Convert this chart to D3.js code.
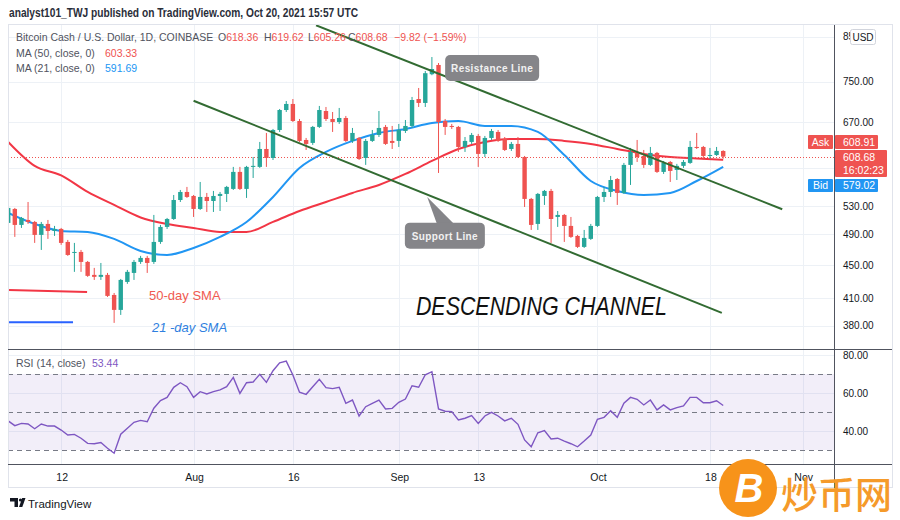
<!DOCTYPE html>
<html><head><meta charset="utf-8">
<script src="https://cdn.jsdelivr.net/npm/d3@7"></script>
<style>
html,body{margin:0;padding:0;background:#fff;}
svg{display:block;font-family:"Liberation Sans",Arial,sans-serif;}
</style></head><body>
<svg id="c" width="900" height="520"></svg>
<script>
// ---------- DATA ----------
const startDate = "2021-07-04";
const open = [506.0,526.1,503.2,510.2,507.4,489.4,504.6,494.8,497.6,479.9,465.4,466.7,453.9,437.8,435.4,437.8,414.0,397.1,429.3,440.2,453.9,459.0,453.9,479.9,500.4,511.6,539.4,551.6,545.5,526.1,544.0,537.9,545.5,548.6,556.3,583.3,556.3,591.5,591.5,621.8,606.4,655.6,693.1,704.9,672.2,637.6,632.4,661.2,691.2,676.0,670.4,677.9,635.9,641.2,606.4,635.9,646.6,661.2,635.9,635.9,653.8,663.0,714.7,706.9,765.8,785.8,672.2,663.0,661.2,625.3,634.1,644.8,613.3,641.2,652.0,639.4,621.8,630.6,608.1,541.0,504.6,545.5,553.2,514.5,517.4,501.8,488.0,473.3,484.0,501.8,544.0,551.6,571.9,550.1,594.8,616.7,609.8,594.8,615.0,583.3,599.7,586.5,593.2,598.1,625.3,625.3,609.8,611.5,618.36];
const high = [529.0,527.6,514.5,536.4,508.8,507.4,510.2,501.8,499.0,482.6,478.6,469.3,455.1,446.4,452.6,440.2,416.3,432.9,443.9,456.4,461.6,461.6,517.4,503.2,513.1,547.0,554.7,559.4,547.0,567.2,550.1,553.2,551.6,561.0,591.5,591.5,593.2,608.1,634.1,650.2,657.5,695.1,710.7,714.7,676.0,641.2,663.0,701.0,699.0,689.3,697.1,681.7,659.3,642.9,639.4,655.6,691.2,664.8,663.0,666.7,674.1,718.8,737.0,772.7,803.4,790.1,676.0,666.7,663.0,642.9,650.2,648.4,644.8,657.5,655.6,642.9,634.1,642.9,609.8,542.5,550.1,554.7,556.3,523.1,518.8,514.5,489.4,496.2,504.6,545.5,559.4,576.8,573.5,598.1,623.6,637.6,620.1,625.3,616.7,601.4,601.4,596.5,603.0,635.9,650.2,627.1,623.6,625.3,619.62];
const low = [504.6,486.7,499.0,504.6,478.6,469.3,484.0,488.0,476.0,461.6,441.5,441.5,435.4,431.7,431.7,411.7,383.0,391.6,427.0,431.7,451.4,440.2,451.4,477.3,497.6,510.2,536.4,542.5,514.5,524.6,521.7,521.7,523.1,536.4,554.7,554.7,542.5,573.5,589.8,591.5,603.0,652.0,689.3,670.4,634.1,620.1,628.9,659.3,672.2,652.0,666.7,634.1,632.4,603.0,594.8,634.1,642.9,628.9,621.8,625.3,650.2,659.3,699.0,699.0,763.7,581.6,646.6,657.5,616.7,616.7,630.6,591.5,608.1,637.6,634.1,618.4,618.4,606.4,529.0,496.2,496.2,532.0,478.6,500.4,479.9,485.3,471.9,471.9,482.6,500.4,536.4,544.0,532.0,548.6,562.5,599.7,589.8,593.2,581.6,580.0,567.2,570.3,589.8,596.5,621.8,603.0,604.7,609.8,605.26];
const close = [527.6,503.2,513.1,507.4,489.4,504.6,494.8,497.6,478.6,462.8,466.7,453.9,436.6,435.4,437.8,412.9,397.1,431.7,441.5,453.9,459.0,452.6,479.9,500.4,511.6,539.4,551.6,544.0,526.1,544.0,537.9,545.5,548.6,559.4,583.3,556.3,591.5,593.2,621.8,606.4,655.6,693.1,704.9,672.2,635.9,630.6,661.2,693.1,676.0,670.4,677.9,635.9,650.2,604.7,635.9,646.6,659.3,630.6,632.4,655.6,663.0,712.7,706.9,768.0,777.0,670.4,661.2,661.2,625.3,635.9,646.6,613.3,641.2,653.8,635.9,620.1,630.6,608.1,541.0,503.2,548.6,553.2,511.6,517.4,501.8,486.7,473.3,485.3,501.8,544.0,551.6,570.3,550.1,594.8,616.7,608.1,594.8,615.0,583.3,598.1,584.9,593.2,599.7,625.3,623.6,609.8,611.5,618.4,608.68];
const rsi = [45.3,42.8,44.0,43.7,41.2,43.7,42.6,42.6,40.5,37.9,38.2,36.2,33.5,33.3,33.9,30.9,28.3,38.3,41.4,44.6,45.6,44.9,52.0,56.0,57.7,63.0,65.4,63.3,57.7,60.7,59.5,60.7,61.6,63.3,68.2,59.8,65.4,65.8,69.8,65.6,71.7,75.9,76.8,69.5,60.4,59.3,63.3,67.2,62.8,62.3,63.0,54.6,56.3,47.9,52.8,54.6,56.3,51.6,51.9,55.1,56.8,63.8,63.0,69.6,71.2,51.6,50.4,50.2,45.8,46.7,48.1,44.0,47.9,49.8,47.9,45.3,46.7,43.5,35.3,31.7,39.1,40.2,35.8,36.2,34.7,33.3,31.7,34.7,37.9,46.2,47.2,50.7,47.2,54.6,57.7,56.7,53.7,56.3,51.1,53.7,51.1,52.3,53.2,57.7,57.7,54.9,54.9,55.9,53.44];
// moving averages read every 4th day (day index 0,4,...,108)
const maStep = 4;
const ma50 = [634.1,593.2,577.6,551.6,532.0,513.8,504.6,499.0,493.5,493.5,507.4,523.1,536.4,550.1,562.5,580.0,601.4,621.8,634.1,639.4,639.4,635.9,630.6,621.8,613.3,608.1,605.6,603.33];
const ma21 = [520.3,504.6,494.8,493.5,484.0,468.0,462.8,471.9,486.7,507.4,544.0,589.8,616.7,635.9,650.2,657.5,668.5,672.2,663.0,663.0,652.0,611.5,568.7,553.2,547.0,550.1,568.7,591.69];
const priceTicks = [380,410,450,490,530,590,670,750,850];
const rsiGrid = [40,60,80];
const rsiLevels = [30,50,70];
const tickDates = ["2021-07-12","2021-08-01","2021-08-16","2021-09-01","2021-09-13","2021-10-01","2021-10-18","2021-11-01"];
const tickLabels = ["12","Aug","16","Sep","13","Oct","18","Nov"];
const askPrice = 608.91, bidPrice = 579.02, countdown = "16:02:23";
const resistance = [["2021-08-19T12:00:00Z",877.6],["2021-10-28T22:00:00Z",525.7]];
const support = [["2021-08-01T00:00:00Z",711.3],["2021-10-19T19:00:00Z",393.8]];
const legend50 = [["2021-07-04T02:00:00Z",419.8],["2021-07-15T22:00:00Z",417.5]];
const legend21 = [["2021-07-04T02:00:00Z",383.7],["2021-07-13T19:00:00Z",383.7]];

// ---------- SCALES ----------
const svg = d3.select("#c");
const D = s => new Date(s);
const day0 = D(startDate + "T00:00:00Z");
const dates = open.map((_, i) => d3.utcDay.offset(day0, i));
const L = 8, AX = 834, R = 892, TOP = 25, MB = 349, RB = 464, TB = 488;
const x = d3.scaleUtc().domain([dates[0], dates[dates.length-1]]).range([8.2, 723.2]);
const y = d3.scaleLog().domain([380, 750]).range([325.7, 81.7]);
const yr = d3.scaleLinear().domain([30, 70]).range([450, 374]);
const GREEN = "#26a69a", RED = "#ef5350", BLUE = "#2196f3", PURPLE = "#7e57c2";
const TXT = "#131722";

svg.append("rect").attr("width",900).attr("height",520).attr("fill","#fff");

const defs = svg.append("defs");
defs.append("clipPath").attr("id","cm").append("rect").attr("x",L).attr("y",TOP).attr("width",AX-L).attr("height",MB-TOP);
defs.append("clipPath").attr("id","cr").append("rect").attr("x",L).attr("y",MB).attr("width",AX-L).attr("height",RB-MB);
defs.append("clipPath").attr("id","cusd").append("rect").attr("x",AX).attr("y",TOP).attr("width",16).attr("height",20);

// header
svg.append("text").attr("x",9).attr("y",17).attr("font-size",12).attr("font-weight","bold").attr("fill","#2a2e39")
  .attr("textLength",349).attr("lengthAdjust","spacingAndGlyphs")
  .text("analyst101_TWJ published on TradingView.com, Oct 20, 2021 15:57 UTC");

// ---------- GRID ----------
const grid = svg.append("g").attr("stroke","#edf1f6").attr("stroke-width",1);
tickDates.forEach(t => {
  const xx = Math.round(x(D(t+"T00:00:00Z"))) + 0.5;
  grid.append("line").attr("x1",xx).attr("x2",xx).attr("y1",TOP).attr("y2",RB);
});
priceTicks.forEach(p => {
  const yy = Math.round(y(p)) + 0.5;
  if (yy > TOP && yy < MB) grid.append("line").attr("x1",L).attr("x2",AX).attr("y1",yy).attr("y2",yy);
});
// RSI band
svg.append("rect").attr("x",L).attr("width",AX-L).attr("y",yr(70)).attr("height",yr(30)-yr(70)).attr("fill","rgba(126,87,194,0.1)");
rsiGrid.forEach(v => {
  const yy = Math.round(yr(v)) + 0.5;
  grid.append("line").attr("x1",L).attr("x2",AX).attr("y1",yy).attr("y2",yy);
});
rsiLevels.forEach(v => {
  const yy = Math.round(yr(v)) + 0.5;
  svg.append("line").attr("x1",L).attr("x2",AX).attr("y1",yy).attr("y2",yy)
    .attr("stroke","#787b86").attr("stroke-dasharray","5,4").attr("stroke-width",1);
});

// ---------- MAIN PANE ----------
const main = svg.append("g").attr("clip-path","url(#cm)");
const maPts = arr => arr.map((v,k) => ({d: dates[k*maStep], v}));
const maLine = d3.line().x(d => x(d.d)).y(d => y(d.v)).curve(d3.curveMonotoneX);
main.append("path").attr("d", maLine(maPts(ma50))).attr("fill","none").attr("stroke","#f23645").attr("stroke-width",2);
main.append("path").attr("d", maLine(maPts(ma21))).attr("fill","none").attr("stroke",BLUE).attr("stroke-width",2);

// current price dotted line
const lastY = y(close[close.length-1]);
main.append("line").attr("x1",L).attr("x2",AX).attr("y1",Math.round(lastY)+0.5).attr("y2",Math.round(lastY)+0.5)
  .attr("stroke",RED).attr("stroke-dasharray","1,2").attr("stroke-width",1);

// candles
const bw = 4.4;
const cg = main.append("g");
dates.forEach((d,i) => {
  const up = close[i] >= open[i];
  const col = up ? GREEN : RED;
  const cx = x(d);
  cg.append("line").attr("x1",cx).attr("x2",cx).attr("y1",y(high[i])).attr("y2",y(low[i])).attr("stroke",col).attr("stroke-width",1);
  const top = y(Math.max(open[i],close[i])), bot = y(Math.min(open[i],close[i]));
  cg.append("rect").attr("x",cx-bw/2).attr("y",top).attr("width",bw).attr("height",Math.max(1,bot-top)).attr("fill",col);
});

// trend lines
const tl = d3.line().x(d => x(D(d[0]))).y(d => y(d[1]));
[resistance, support].forEach(seg => {
  main.append("path").attr("d", tl(seg)).attr("stroke","#326b32").attr("stroke-width",2).attr("fill","none");
});

// legend samples & labels on chart
main.append("path").attr("d", tl(legend50)).attr("stroke","#f23645").attr("stroke-width",2).attr("fill","none");
main.append("path").attr("d", tl(legend21)).attr("stroke","#2962ff").attr("stroke-width",2).attr("fill","none");
main.append("text").attr("x",x(D("2021-07-25T06:30:00Z"))).attr("y",y(408.3)).attr("font-size",13).attr("fill","#f05a50").text("50-day SMA");
main.append("text").attr("x",x(D("2021-07-25T17:00:00Z"))).attr("y",y(373.4)).attr("font-size",13).attr("font-style","italic").attr("fill","#2f7fe0").text("21 -day SMA");
main.append("text").attr("x",x(D("2021-09-03T14:00:00Z"))).attr("y",y(391.6))
  .attr("font-family","'Liberation Sans Narrow','Liberation Sans',Arial,sans-serif")
  .attr("font-size",25).attr("font-style","italic").attr("fill","#111")
  .attr("textLength",251).attr("lengthAdjust","spacingAndGlyphs").text("DESCENDING CHANNEL");

// callouts
const cb = "#858589";
{
  const bx = x(D("2021-09-08T00:00:00Z")), by = y(807.9);
  main.append("rect").attr("x",bx).attr("y",by).attr("width",94).attr("height",26).attr("rx",5).attr("fill",cb);
  main.append("text").attr("x",bx+47).attr("y",by+17).attr("text-anchor","middle").attr("font-size",10).attr("font-weight","bold")
    .attr("letter-spacing",0.4).attr("fill","#f2f2f2").text("Resistance Line");
}
{
  const bx = x(D("2021-09-01T22:00:00Z")), by = y(506.4);
  const tx = x(D("2021-09-05T07:00:00Z")), ty = y(544.0);
  main.append("path").attr("d",`M${bx+32},${by+1} L${tx},${ty} L${bx+49},${by+1} Z`).attr("fill",cb);
  main.append("rect").attr("x",bx).attr("y",by).attr("width",80).attr("height",26).attr("rx",5).attr("fill",cb);
  main.append("text").attr("x",bx+40).attr("y",by+17).attr("text-anchor","middle").attr("font-size",10).attr("font-weight","bold")
    .attr("letter-spacing",0.4).attr("fill","#f2f2f2").text("Support Line");
}

// ---------- RSI PANE ----------
const rg = svg.append("g").attr("clip-path","url(#cr)");
rg.append("path").attr("d", d3.line().x((v,i) => x(dates[i])).y(v => yr(v))(rsi))
  .attr("fill","none").attr("stroke",PURPLE).attr("stroke-width",1.4);

// ---------- LEGENDS ----------
const lg = svg.append("g").attr("font-size",10.5).attr("fill","#50535e");
lg.append("text").attr("x",16).attr("y",40.5).text("Bitcoin Cash / U.S. Dollar, 1D, COINBASE");
const ohlc = [["O",218,open],["H",264,high],["L",308,low],["C",348,close]];
ohlc.forEach(([k,xx,arr]) => {
  const t = lg.append("text").attr("x",xx).attr("y",40.5);
  t.append("tspan").text(k);
  t.append("tspan").attr("fill",RED).text(arr[arr.length-1].toFixed(2));
});
lg.append("text").attr("x",394).attr("y",40.5).attr("fill",RED).text("\u22129.82 (\u22121.59%)");
lg.append("text").attr("x",16).attr("y",56.5).text("MA (50, close, 0)");
lg.append("text").attr("x",105).attr("y",56.5).attr("fill",RED).text(ma50[ma50.length-1].toFixed(2));
lg.append("text").attr("x",16).attr("y",71.5).text("MA (21, close, 0)");
lg.append("text").attr("x",105).attr("y",71.5).attr("fill",BLUE).text(ma21[ma21.length-1].toFixed(2));
lg.append("text").attr("x",16).attr("y",366.5).text("RSI (14, close)");
lg.append("text").attr("x",92).attr("y",366.5).attr("fill",PURPLE).text(rsi[rsi.length-1].toFixed(2));

// ---------- AXES ----------
const ax = svg.append("g").attr("font-size",10).attr("fill",TXT);
const lyr = Math.round(lastY);
priceTicks.forEach(p => {
  const yy = y(p);
  if (yy < TOP + 5 || yy > MB - 4) return;
  if (yy > lyr - 25 && yy < lyr + 38) return;   // hidden behind the price labels
  const t = ax.append("text").attr("x",843).attr("y",yy+3.6).text(p.toFixed(2));
  if (yy < TOP + 20) t.attr("clip-path","url(#cusd)");   // partly covered by the USD box
});
rsiGrid.forEach(v => ax.append("text").attr("x",843).attr("y",yr(v)+3.6).text(v.toFixed(2)));
tickDates.forEach((t,k) => {
  ax.append("text").attr("x",x(D(t+"T00:00:00Z"))+1).attr("y",481).attr("text-anchor","middle").attr("font-size",10.5).text(tickLabels[k]);
});

// frame lines
const fr = svg.append("g");
fr.append("rect").attr("x",L+0.5).attr("y",TOP-0.5).attr("width",R-L).attr("height",TB-TOP).attr("fill","none").attr("stroke","#e0e3eb");
fr.append("line").attr("x1",AX+0.5).attr("x2",AX+0.5).attr("y1",TOP).attr("y2",TB).attr("stroke","#50535e");
fr.append("line").attr("x1",L).attr("x2",R).attr("y1",MB+0.5).attr("y2",MB+0.5).attr("stroke","#50535e");
fr.append("line").attr("x1",L).attr("x2",R).attr("y1",RB+0.5).attr("y2",RB+0.5).attr("stroke","#50535e");

// USD box
svg.append("rect").attr("x",850.5).attr("y",29.5).attr("width",25).attr("height",15).attr("rx",2).attr("fill","#fff").attr("stroke","#d1d4dc");
svg.append("text").attr("x",863).attr("y",40.5).attr("text-anchor","middle").attr("font-size",10).attr("fill",TXT).text("USD");

// price labels
const pl = svg.append("g").attr("font-size",10.5).attr("fill","#fff");
const ly = lyr;
pl.append("rect").attr("x",808).attr("y",ly-22).attr("width",25).attr("height",14).attr("rx",1).attr("fill",RED);
pl.append("text").attr("x",820.5).attr("y",ly-11).attr("text-anchor","middle").text("Ask");
pl.append("rect").attr("x",835).attr("y",ly-22).attr("width",43).attr("height",14).attr("rx",1).attr("fill",RED);
pl.append("text").attr("x",843).attr("y",ly-11).text(askPrice.toFixed(2));
pl.append("rect").attr("x",835).attr("y",ly-7).attr("width",52).attr("height",27).attr("rx",1).attr("fill",RED);
pl.append("text").attr("x",843).attr("y",ly+4).text(close[close.length-1].toFixed(2));
pl.append("text").attr("x",843).attr("y",ly+17).text(countdown);
pl.append("rect").attr("x",808).attr("y",ly+22).attr("width",25).attr("height",13).attr("rx",1).attr("fill",BLUE);
pl.append("text").attr("x",820.5).attr("y",ly+32).attr("text-anchor","middle").text("Bid");
pl.append("rect").attr("x",835).attr("y",ly+22).attr("width",43).attr("height",13).attr("rx",1).attr("fill",BLUE);
pl.append("text").attr("x",843).attr("y",ly+32).text(bidPrice.toFixed(2));

// TradingView logo
const lo = svg.append("g").attr("fill","#131722");
lo.append("path").attr("d","M10,498 h8 v9 h-3.5 v-5.5 h-4.5 z");
lo.append("circle").attr("cx",20.5).attr("cy",500).attr("r",1.6);
lo.append("path").attr("d","M19,507 l3.2,-9 h3.3 l-3.2,9 z");
lo.append("text").attr("x",28).attr("y",507.5).attr("font-size",11.5).text("TradingView");

// watermark
const wm = svg.append("g");
wm.append("circle").attr("cx",748).attr("cy",488).attr("r",29).attr("fill","#f7931a");
wm.append("text").attr("x",749).attr("y",502).attr("text-anchor","middle").attr("font-size",40).attr("font-weight","bold")
  .attr("font-style","italic").attr("fill","#fff").text("B");
wm.append("text").attr("x",781).attr("y",509).attr("font-family","'Noto Sans CJK SC',sans-serif").attr("font-size",37)
  .attr("font-weight",500).attr("fill","#f59a2a").text("炒币网");
</script>
</body></html>
